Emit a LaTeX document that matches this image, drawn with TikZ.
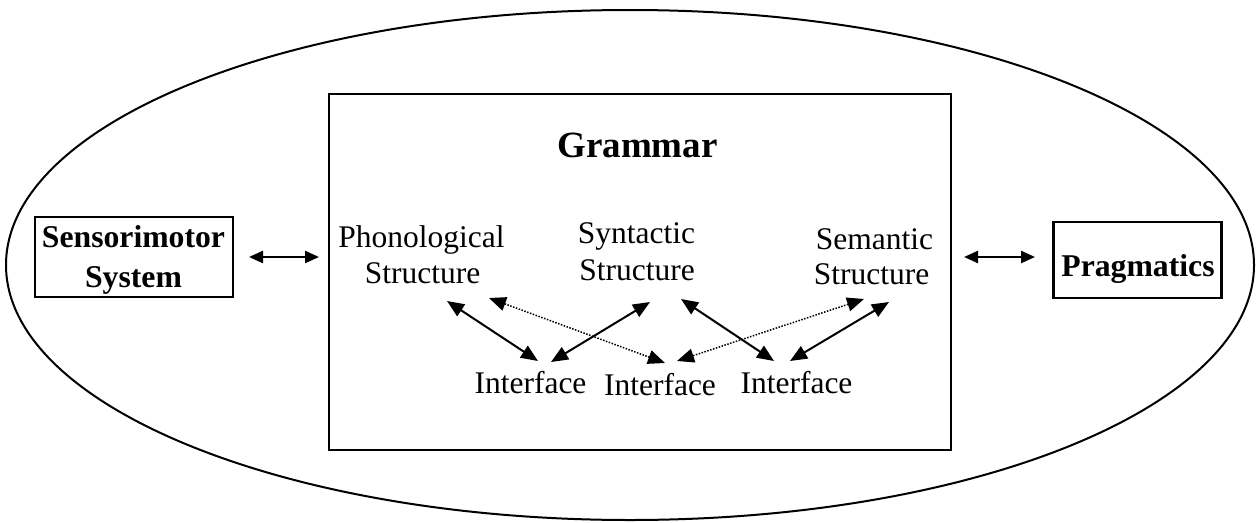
\documentclass[tikz,border=0pt]{standalone}
\usepackage{fontspec}
\setmainfont{Liberation Serif}
\usetikzlibrary{arrows.meta}

\tikzset{
  every node/.style={inner sep=0pt, outer sep=0pt},
  plain/.style={font=\fontsize{31.5}{35}\selectfont, anchor=base},
  heading/.style={font=\bfseries\fontsize{37}{40}\selectfont, anchor=base},
  boldtext/.style={font=\bfseries\fontsize{31.7}{40}\selectfont, align=center},
  frame/.style={draw, line width=2.4pt},
  tip/.tip={Triangle[length=17pt,width=14pt]},
  smalltip/.tip={Triangle[length=14pt,width=12pt]},
  link/.style={line width=2pt, tip-tip},
  dotlink/.style={line width=1.5pt, dash pattern=on 1.5pt off 1.5pt, tip-tip},
  side/.style={line width=2.4pt, smalltip-smalltip},
}

\begin{document}
\begin{tikzpicture}[x=1pt, y=-1pt]
\useasboundingbox (0,0) rectangle (1257,522);

% outer ellipse
\draw[line width=2pt] (630,265) ellipse [x radius=624, y radius=255];

% grammar frame and title
\node[frame, minimum width=622pt, minimum height=356pt] (gram) at (640,272) {};
\node[heading] (title) at (637.5,157) {Grammar};

% side systems
\node[frame, minimum width=198pt, minimum height=80pt] (sensor) at (134,257) {};
\node[boldtext] (sensorT) at (133.5,259.5) {Sensorimotor\\System};
\node[frame, minimum width=168pt, minimum height=76pt] (prag) at (1137.5,260) {};
\node[boldtext, anchor=base] (pragT) at (1138,276) {Pragmatics};

% the three structures
\node[plain] (phon)  at (421.5,247) {Phonological};
\node[plain] (phonS) at (422.5,283) {Structure};
\node[plain] (syn)   at (636.5,243) {Syntactic};
\node[plain] (synS)  at (637,280) {Structure};
\node[plain] (sem)   at (874.5,249) {Semantic};
\node[plain] (semS)  at (871.5,284) {Structure};

% the three interfaces
\node[plain] (if1) at (530.5,393) {Interface};
\node[plain] (if2) at (660,395) {Interface};
\node[plain] (if3) at (796.5,393) {Interface};

% connector end points
\coordinate (sL) at (249,257);
\coordinate (sR) at (319,257);
\coordinate (pL) at (964,257);
\coordinate (pR) at (1035,257);

\coordinate (phA) at (447,301);
\coordinate (phB) at (489,298);
\coordinate (syA) at (650,302);
\coordinate (syB) at (681,299);
\coordinate (seA) at (864,299);
\coordinate (seB) at (889,302);

\coordinate (i1A) at (538,361);
\coordinate (i1B) at (551,362);
\coordinate (i2A) at (665,363);
\coordinate (i2B) at (677,361);
\coordinate (i3A) at (774,361);
\coordinate (i3B) at (790,361);

% links to the outside
\draw[side] (sL) -- (sR);
\draw[side] (pL) -- (pR);

% structure-interface links
\draw[link] (phA) -- (i1A);
\draw[link] (syA) -- (i1B);
\draw[dotlink] (phB) -- (i2A);
\draw[link] (syB) -- (i3A);
\draw[dotlink] (seA) -- (i2B);
\draw[link] (seB) -- (i3B);
\end{tikzpicture}
\end{document}
